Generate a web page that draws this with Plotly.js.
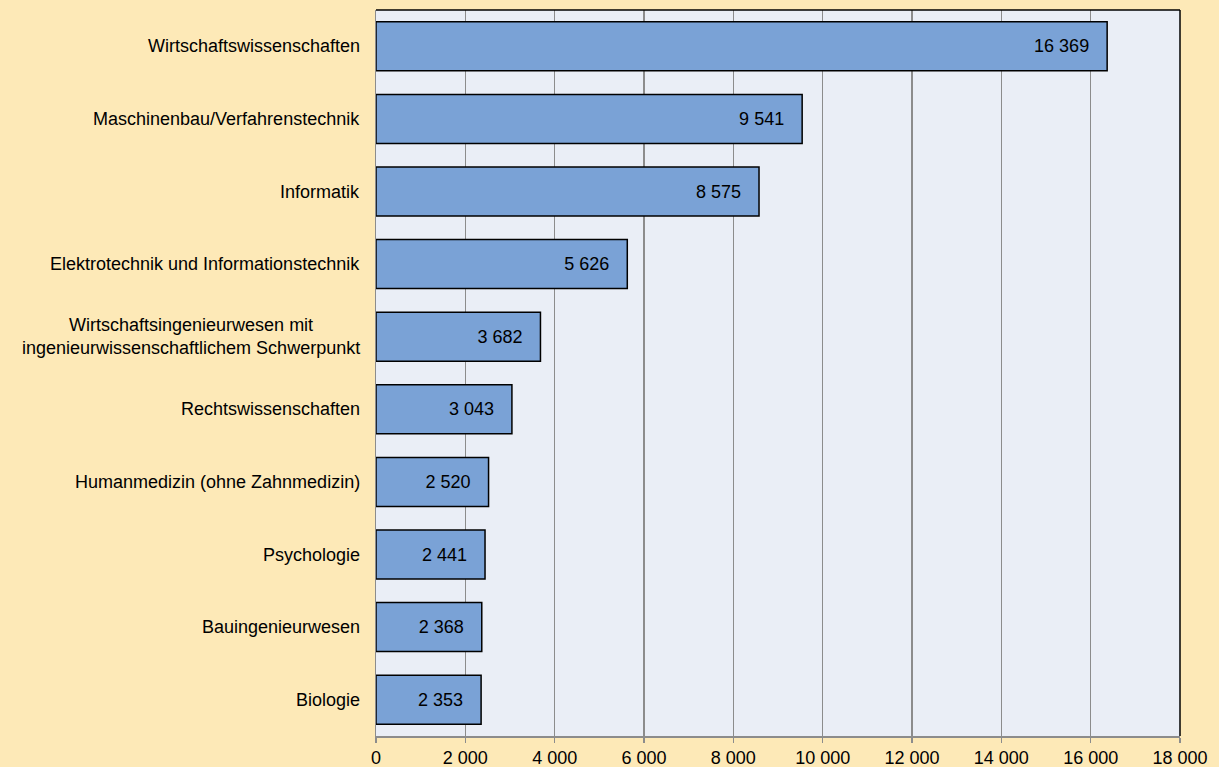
<!DOCTYPE html>
<html>
<head>
<meta charset="utf-8">
<script src="https://cdn.plot.ly/plotly-3.0.1.min.js"></script>
<style>html,body{margin:0;padding:0;background:#FDE9B7;}#chart{width:1219px;height:767px;}</style>
</head>
<body>
<div id="chart"></div>
<script>
const categories = [
  "Wirtschaftswissenschaften",
  "Maschinenbau/Verfahrenstechnik",
  "Informatik",
  "Elektrotechnik und Informationstechnik",
  "Wirtschaftsingenieurwesen mit<br>ingenieurwissenschaftlichem Schwerpunkt",
  "Rechtswissenschaften",
  "Humanmedizin (ohne Zahnmedizin)",
  "Psychologie",
  "Bauingenieurwesen",
  "Biologie"
];
const values = [16369, 9541, 8575, 5626, 3682, 3043, 2520, 2441, 2368, 2353];
const tickValues = [0, 2000, 4000, 6000, 8000, 10000, 12000, 14000, 16000, 18000];

const FONT = 'Arial, Liberation Sans, sans-serif';

const trace = {
  type: 'bar',
  orientation: 'h',
  y: categories,
  x: values,
  marker: {color: '#7AA2D6', line: {color: '#000000', width: 1.5}},
  texttemplate: '%{x:,d}\u00a0\u00a0\u00a0',
  textposition: 'inside',
  insidetextanchor: 'end',
  textfont: {family: FONT, size: 18, color: '#000000'},
  hoverinfo: 'skip',
  cliponaxis: false
};

const categoryLabels = categories.map(c => ({
  xref: 'paper', yref: 'y', x: 0, y: c,
  xanchor: 'right', yanchor: 'middle', xshift: -14,
  align: 'center', showarrow: false,
  text: c,
  font: {family: FONT, size: 18, color: '#000000'}
}));

const layout = {
  width: 1219, height: 767,
  margin: {l: 376, r: 39, t: 10, b: 31, pad: 0},
  paper_bgcolor: '#FDE9B7',
  plot_bgcolor: '#EAEEF6',
  separators: ', ',
  bargap: 0.325,
  showlegend: false,
  font: {family: FONT, size: 18, color: '#000000'},
  xaxis: {
    range: [0, 18000],
    tickvals: tickValues,
    tickformat: ',d',
    showgrid: true, gridcolor: '#8C8C8C', gridwidth: 1.5,
    zeroline: false,
    showline: true, linecolor: '#8C8C8C', linewidth: 1.5,
    ticks: 'outside', ticklen: 5, tickcolor: '#8C8C8C', tickwidth: 1.5,
    tickfont: {size: 18, color: '#000000'},
    fixedrange: true
  },
  yaxis: {
    autorange: 'reversed',
    showgrid: false, zeroline: false,
    showline: true, linecolor: '#8C8C8C', linewidth: 1.5,
    ticks: '', showticklabels: false,
    fixedrange: true
  },
  annotations: categoryLabels,
  shapes: [
    {type: 'line', xref: 'paper', yref: 'paper', x0: 0, x1: 1, y0: 1, y1: 1, line: {color: '#000000', width: 1.5}},
    {type: 'line', xref: 'paper', yref: 'paper', x0: 1, x1: 1, y0: 0, y1: 1, line: {color: '#000000', width: 1.5}}
  ]
};

Plotly.newPlot('chart', [trace], layout, {displayModeBar: false, staticPlot: true});
</script>
</body>
</html>
